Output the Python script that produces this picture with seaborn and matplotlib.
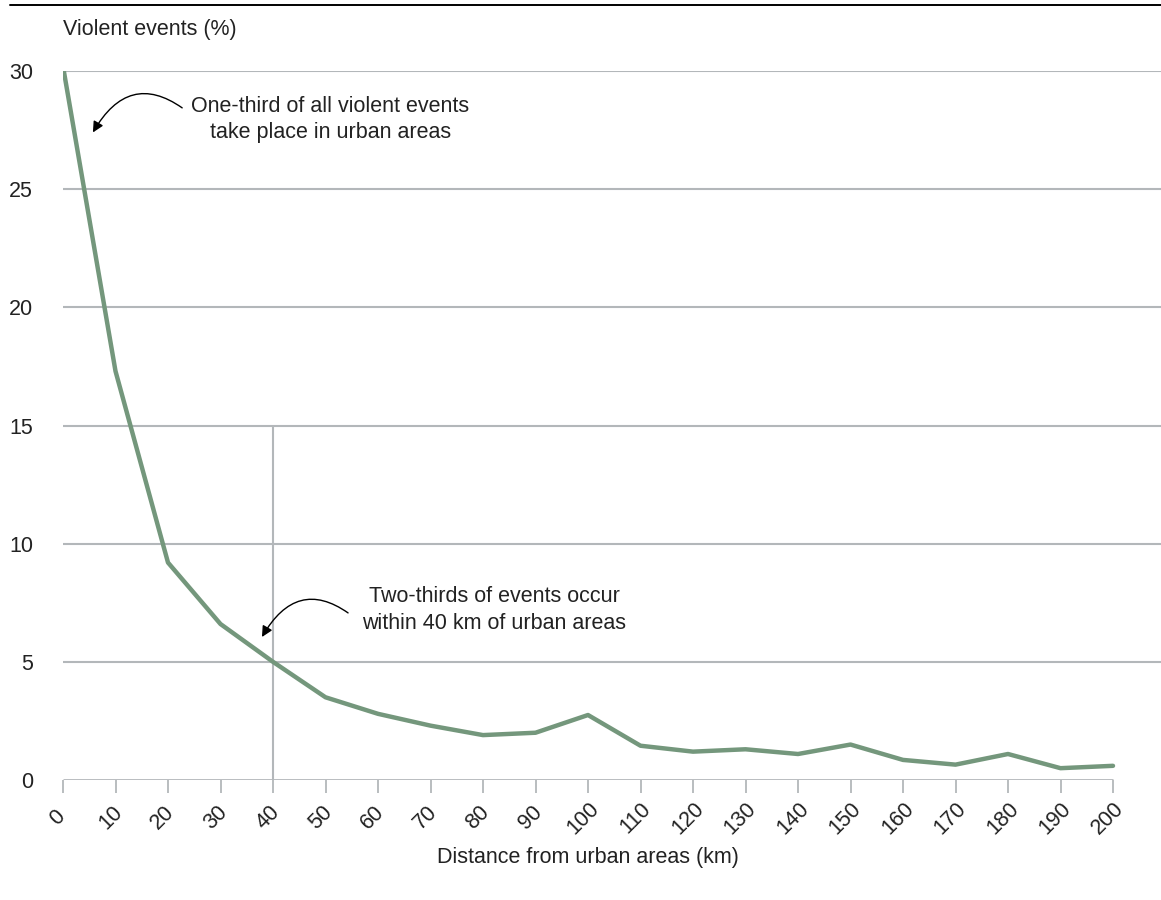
import matplotlib
matplotlib.use("Agg")
import matplotlib.pyplot as plt
import matplotlib.lines as mlines
import matplotlib.transforms as mtransforms
import pandas as pd
import seaborn as sns

distance_km = [0, 10, 20, 30, 40, 50, 60, 70, 80, 90, 100,
               110, 120, 130, 140, 150, 160, 170, 180, 190, 200]
violent_pct = [30.2, 17.3, 9.2, 6.6, 5.0, 3.5, 2.8, 2.3, 1.9, 2.0, 2.75,
               1.45, 1.2, 1.3, 1.1, 1.5, 0.85, 0.65, 1.1, 0.5, 0.6]
y_ticks = [0, 5, 10, 15, 20, 25, 30]

df = pd.DataFrame({"distance": distance_km, "pct": violent_pct})

sns.set_theme(style="white")
plt.rcParams["font.family"] = ["Liberation Sans", "DejaVu Sans"]

W, H = 1161, 900
FS = 15.5
fig = plt.figure(figsize=(W / 100, H / 100), dpi=100)
# axes: x=0 at px 63, x=200 at px 1113, y=0 at px 780, y=30 at px 71
left, right = 63 / W, 1.0
bottom, top = (H - 780) / H, (H - 71) / H
ax = fig.add_axes([left, bottom, right - left, top - bottom])
px_per_km = (1113 - 63) / 200
ax.set_xlim(0, (W - 63) / px_per_km)
ax.set_ylim(0, 30)

grid_col = "#b3b7ba"
text_col = "#222222"

for y in y_ticks[1:]:
    ax.axhline(y, color=grid_col, lw=1.5, zorder=1)
ax.hlines(0, 0, 200, color=grid_col, lw=2.0, zorder=1)
ax.vlines(40, 0, 15, color=grid_col, lw=1.5, zorder=1)

sns.lineplot(data=df, x="distance", y="pct", ax=ax, color="#74977c",
             lw=3.2, zorder=3, solid_capstyle="round")

for s in ax.spines.values():
    s.set_visible(False)

ax.set_xticks(distance_km)
ax.set_xticklabels([str(d) for d in distance_km], rotation=45,
                   ha="center", va="center", rotation_mode="anchor",
                   fontsize=FS, color=text_col)
ax.tick_params(axis="x", bottom=True, length=9.4, width=1.3, color=grid_col,
               pad=18, direction="out")
shift = mtransforms.ScaledTranslation(-5 / 100, 0, fig.dpi_scale_trans)
for lab in ax.get_xticklabels():
    lab.set_transform(lab.get_transform() + shift)
ax.set_yticks(y_ticks)
ax.set_yticklabels([str(y) for y in y_ticks], ha="right", fontsize=FS,
                   color=text_col)
ax.tick_params(axis="y", left=False, length=0, pad=21.6)
ax.set_xlabel("")
ax.set_ylabel("")

fig.text(63 / W, 1 - 30 / H, "Violent events (%)", fontsize=FS,
         color=text_col, va="center", ha="left")
fig.text(588 / W, 1 - 858 / H, "Distance from urban areas (km)",
         fontsize=FS, color=text_col, va="center", ha="center")

fig.add_artist(mlines.Line2D([10 / W, 1.0], [1 - 5 / H, 1 - 5 / H],
                             color="black", lw=1.4))

ax.text(50.9, 27.95, "One-third of all violent events\ntake place in urban areas",
        ha="center", va="center", fontsize=FS, color=text_col,
        linespacing=1.35)
ax.text(82.1, 7.2, "Two-thirds of events occur\nwithin 40 km of urban areas",
        ha="center", va="center", fontsize=FS, color=text_col,
        linespacing=1.35)

arrow = dict(arrowstyle="-|>", color="black", lw=1.0, shrinkA=0, shrinkB=0,
             mutation_scale=16,
             connectionstyle="angle3,angleA=145,angleB=60")
ax.annotate("", xy=(5.7, 27.4), xytext=(22.7, 28.44), arrowprops=arrow)
ax.annotate("", xy=(37.9, 6.05), xytext=(54.3, 7.07), arrowprops=arrow)

fig.savefig("out.png", dpi=100)
